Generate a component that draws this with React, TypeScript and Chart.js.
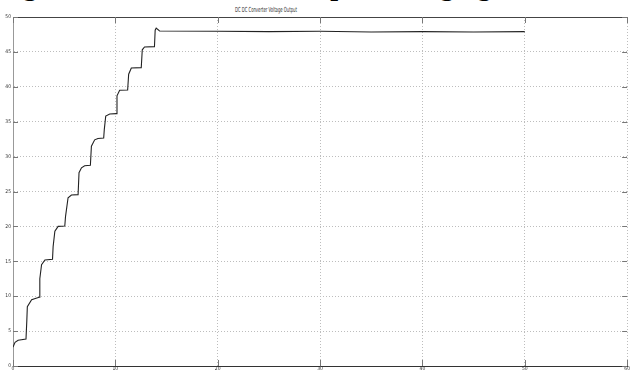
import { useEffect, useRef } from "react";
import { Chart, registerables } from "chart.js";

Chart.register(...registerables);

const HEADING = "Fig.6 DC-DC converter Output Charging";
const TITLE = "DC DC Converter Voltage Output";

const TIME = [
  0, 0.2, 0.5, 1.27,
  1.35, 1.4, 1.82, 2.55,
  2.62, 2.79, 3.12, 3.86,
  3.92, 4.09, 4.41, 5.06,
  5.13, 5.38, 5.71, 6.36,
  6.45, 6.69, 7.0, 7.56,
  7.66, 7.98, 8.3, 8.86,
  8.92, 9.06, 9.45, 10.1,
  10.16, 10.42, 11.2,
  11.3, 11.56, 12.53,
  12.63, 12.85, 13.82,
  13.89, 13.99, 14.32, 20, 25, 30, 35, 40, 45, 50,
];

const VOLTAGE = [
  2.7, 3.4, 3.7, 3.85,
  6.5, 8.5, 9.5, 9.85,
  12.5, 14.5, 15.2, 15.3,
  17.1, 19.3, 20.0, 20.05,
  21.4, 24.1, 24.5, 24.55,
  27.7, 28.4, 28.7, 28.75,
  31.5, 32.4, 32.6, 32.65,
  33.9, 35.8, 36.1, 36.15,
  38.7, 39.5, 39.55,
  41.8, 42.7, 42.75,
  45.3, 45.7, 45.75,
  48.1, 48.4, 48.0, 47.95, 47.9, 47.95, 47.85, 47.9, 47.85, 47.9,
];

const X_TICKS = [0, 10, 20, 30, 40, 50, 60];
const Y_TICKS = [0, 5, 10, 15, 20, 25, 30, 35, 40, 45, 50];

const framePlugin = {
  id: "frame",
  afterDraw(chart: any) {
    const { ctx, chartArea, scales } = chart;
    const { left, right, top, bottom } = chartArea;
    ctx.save();
    ctx.strokeStyle = "#444";
    ctx.lineWidth = 1;
    ctx.beginPath();
    ctx.moveTo(left, top + 0.5);
    ctx.lineTo(right, top + 0.5);
    ctx.stroke();
    ctx.strokeStyle = "#777";
    ctx.beginPath();
    for (const v of X_TICKS) {
      const x = Math.round(scales.x.getPixelForValue(v)) + 0.5;
      ctx.moveTo(x, bottom);
      ctx.lineTo(x, bottom - 6);
      ctx.moveTo(x, top);
      ctx.lineTo(x, top + 6);
    }
    for (const v of Y_TICKS) {
      const y = Math.round(scales.y.getPixelForValue(v)) + 0.5;
      ctx.moveTo(left, y);
      ctx.lineTo(left + 5, y);
      ctx.moveTo(right, y);
      ctx.lineTo(right - 5, y);
    }
    ctx.stroke();
    ctx.restore();
  },
};

export default function App() {
  const ref = useRef<HTMLCanvasElement>(null);
  useEffect(() => {
    if (!ref.current) return;
    const chart = new Chart(ref.current, {
      type: "line",
      data: {
        datasets: [
          {
            data: TIME.map((t, i) => ({ x: t, y: VOLTAGE[i] })),
            borderColor: "#222",
            borderWidth: 1.1,
            pointRadius: 0,
            tension: 0,
            fill: false,
          },
        ],
      },
      options: {
        animation: false,
        responsive: false,
        devicePixelRatio: 1,
        layout: { padding: { top: 17, right: 1, left: 0, bottom: 0 } },
        plugins: { legend: { display: false }, title: { display: false }, tooltip: { enabled: false } },
        scales: {
          x: {
            type: "linear",
            min: 0,
            max: 60,
            afterBuildTicks: (s: any) => {
              s.ticks = X_TICKS.map((v) => ({ value: v }));
            },
            afterFit: (s: any) => {
              s.height = 7;
            },
            ticks: {
              padding: 0,
              maxRotation: 0,
              autoSkip: false,
              color: "#333",
              font: { size: 5, family: "DejaVu Sans Condensed, DejaVu Sans" },
            },
            grid: { color: "#bdbdbd", lineWidth: 1, drawTicks: false },
            border: { display: true, color: "#333", width: 1, dash: [1, 2] },
          },
          y: {
            type: "linear",
            min: 0,
            max: 50,
            afterBuildTicks: (s: any) => {
              s.ticks = Y_TICKS.map((v) => ({ value: v }));
            },
            afterFit: (s: any) => {
              s.width = 13;
            },
            ticks: {
              padding: 2,
              autoSkip: false,
              color: "#333",
              font: { size: 5, family: "DejaVu Sans Condensed, DejaVu Sans" },
            },
            grid: { color: "#bdbdbd", lineWidth: 1, drawTicks: false },
            border: { display: true, color: "#999", width: 1, dash: [1, 2] },
          },
        },
      },
      plugins: [framePlugin],
    } as any);
    return () => chart.destroy();
  }, []);

  return (
    <div
      style={{
        position: "fixed",
        left: 0,
        top: 0,
        width: 630,
        height: 373,
        overflow: "hidden",
        background: "#fff",
      }}
    >
      <div
        style={{
          position: "absolute",
          left: -2,
          top: -28,
          whiteSpace: "nowrap",
          fontFamily: "Liberation Serif, serif",
          fontWeight: "bold",
          fontSize: 28,
          lineHeight: "28px",
          color: "#000",
        }}
      >
        {HEADING}
      </div>
      <div
        style={{
          position: "absolute",
          left: 266,
          top: 7,
          whiteSpace: "nowrap",
          fontFamily: "DejaVu Sans Condensed, DejaVu Sans, sans-serif",
          fontSize: 7,
          lineHeight: "7px",
          color: "#333",
          transform: "translateX(-50%) scaleX(0.6)",
        }}
      >
        {TITLE}
      </div>
      <canvas ref={ref} width={630} height={373} style={{ position: "absolute", left: 0, top: 0 }} />
    </div>
  );
}
